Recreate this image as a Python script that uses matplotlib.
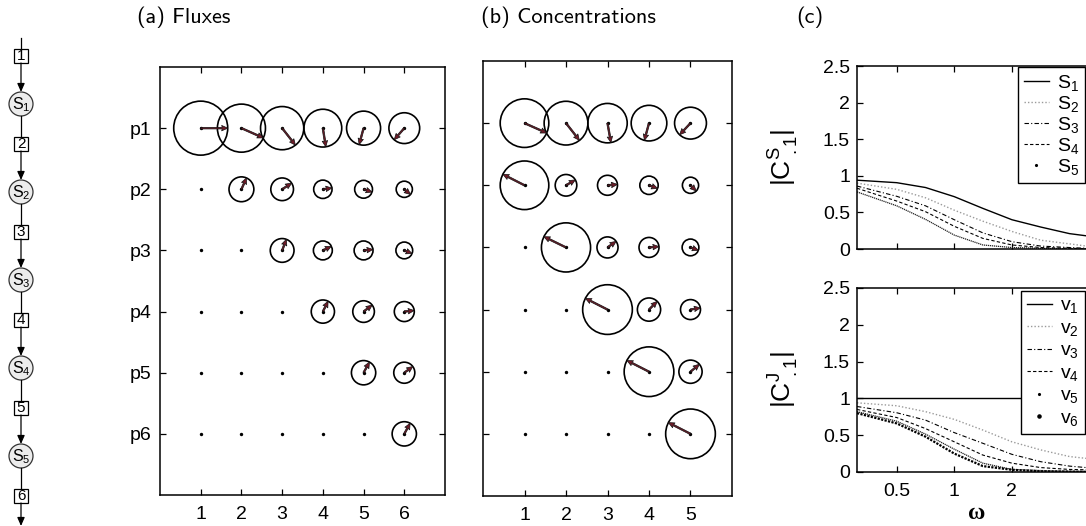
import numpy as np
import matplotlib
matplotlib.use("Agg")
import matplotlib.pyplot as plt
from matplotlib.lines import Line2D
from matplotlib.patches import Circle, Rectangle
from matplotlib.ticker import NullLocator, FixedLocator

plt.rcParams['font.family'] = ['Liberation Sans', 'DejaVu Sans']
plt.rcParams['mathtext.fontset'] = 'custom'
plt.rcParams['mathtext.rm'] = 'Liberation Sans'
plt.rcParams['mathtext.it'] = 'Liberation Sans:italic'

W, H = 1086, 526

# ---- data -------------------------------------------------------------
# response coefficients: magnitude (relative) and phase (degrees), rows p1..p6
flux_cols = [1, 2, 3, 4, 5, 6]
conc_cols = [1, 2, 3, 4, 5]
param_labels = ["p1", "p2", "p3", "p4", "p5", "p6"]

flux_mag = [
    [1.00, 0.89, 0.80, 0.70, 0.63, 0.57],
    [0.00, 0.46, 0.42, 0.34, 0.33, 0.30],
    [0.00, 0.00, 0.44, 0.35, 0.35, 0.31],
    [0.00, 0.00, 0.00, 0.43, 0.40, 0.37],
    [0.00, 0.00, 0.00, 0.00, 0.45, 0.39],
    [0.00, 0.00, 0.00, 0.00, 0.00, 0.45],
]
flux_phase = [
    [0, -24, -52, -81, -105, -131],
    [0, 66, 33, 8, -18, -40],
    [0, 0, 69, 26, 6, -22],
    [0, 0, 0, 63, 37, 6],
    [0, 0, 0, 0, 61, 36],
    [0, 0, 0, 0, 0, 61],
]
conc_mag = [
    [0.90, 0.81, 0.73, 0.66, 0.59],
    [0.90, 0.40, 0.37, 0.34, 0.30],
    [0.00, 0.91, 0.39, 0.37, 0.31],
    [0.00, 0.00, 0.92, 0.43, 0.37],
    [0.00, 0.00, 0.00, 0.92, 0.43],
    [0.00, 0.00, 0.00, 0.00, 0.92],
]
conc_phase = [
    [-24, -52, -80, -105, -133],
    [153, 30, 5, -20, -45],
    [0, 154, 35, 5, -20],
    [0, 0, 153, 45, 10],
    [0, 0, 0, 153, 40],
    [0, 0, 0, 0, 153],
]

omega = [0.31, 0.5, 0.707, 1.0, 1.41, 2.0, 2.83, 4.0, 4.9]
conc_curves = {
    "S1": [0.94, 0.906, 0.84, 0.715, 0.555, 0.40, 0.30, 0.21, 0.18],
    "S2": [0.90, 0.815, 0.70, 0.53, 0.38, 0.24, 0.12, 0.07, 0.04],
    "S3": [0.86, 0.72, 0.59, 0.40, 0.22, 0.10, 0.04, 0.02, 0.01],
    "S4": [0.83, 0.655, 0.51, 0.31, 0.145, 0.055, 0.02, 0.01, 0.005],
    "S5": [0.78, 0.59, 0.405, 0.19, 0.055, 0.02, 0.01, 0.0, 0.0],
}
flux_curves = {
    "v1": [1.0, 1.0, 1.0, 1.0, 1.0, 1.0, 1.0, 1.0, 1.0],
    "v2": [0.94, 0.90, 0.82, 0.715, 0.57, 0.41, 0.30, 0.21, 0.185],
    "v3": [0.89, 0.805, 0.705, 0.535, 0.39, 0.24, 0.14, 0.08, 0.06],
    "v4": [0.85, 0.74, 0.59, 0.41, 0.23, 0.12, 0.06, 0.035, 0.03],
    "v5": [0.82, 0.69, 0.515, 0.31, 0.12, 0.035, 0.02, 0.01, 0.01],
    "v6": [0.80, 0.66, 0.48, 0.25, 0.08, 0.03, 0.01, 0.005, 0.0],
}

RADIUS_PX = 27.0  # circle radius for magnitude 1


def px_axes(left, top, right, bottom):
    return fig.add_axes([left / W, (H - bottom) / H, (right - left) / W, (bottom - top) / H])


def style_box(ax):
    for sp in ax.spines.values():
        sp.set_linewidth(1.1)
    ax.tick_params(direction='in', top=True, right=True, length=4, width=0.9,
                   labelsize=14, pad=6)


def circle_panel(ax, cols, mag, phase, ylabels):
    m = np.array(mag)
    ph = np.deg2rad(np.array(phase))
    nr, nc = m.shape
    X, Y = np.meshgrid(cols, np.arange(1, nr + 1))
    r_px = m * RADIUS_PX
    show = m > 0
    # circles, size given in points^2 (100 dpi)
    d_pt = 2 * r_px * 0.72
    ax.scatter(X[show], Y[show], s=d_pt[show] ** 2, facecolors='none',
               edgecolors='black', linewidths=1.2, zorder=2)
    ax.scatter(X.ravel(), Y.ravel(), s=6, color='black', linewidths=0, zorder=3)
    U = r_px * np.cos(ph)
    V = r_px * np.sin(ph)
    ax.quiver(X[show], Y[show], U[show], V[show], angles='uv', scale_units='dots',
              scale=1, units='dots', width=1.6, headwidth=3.4, headlength=3.8,
              headaxislength=3.4, facecolor='#6e1b28', edgecolor='#111111',
              linewidth=0.5, zorder=4)
    ax.set_xlim(0, cols[-1] + 1)
    ax.set_ylim(nr + 1, 0)
    ax.set_xticks(cols)
    ax.set_xticklabels([str(c) for c in cols])
    ax.set_yticks(np.arange(1, nr + 1))
    if ylabels is None:
        ax.set_yticklabels([])
    else:
        ax.set_yticklabels(ylabels)
    style_box(ax)
    ax.tick_params(axis='x', pad=8)


fig = plt.figure(figsize=(W / 100, H / 100), dpi=100)

# ---- (a) and (b) ----------------------------------------------------
ax_a = px_axes(160, 67, 445, 495)
circle_panel(ax_a, flux_cols, flux_mag, flux_phase, param_labels)
ax_b = px_axes(483, 61, 732, 496)
circle_panel(ax_b, conc_cols, conc_mag, conc_phase, None)

# ---- (c) ------------------------------------------------------------
line_styles = [
    dict(color='black', lw=1.0, ls='-'),
    dict(color='#9a9a9a', lw=1.0, ls=(0, (1, 1.5))),
    dict(color='black', lw=0.8, ls=(0, (4, 2, 1, 2))),
    dict(color='black', lw=0.8, ls=(0, (3, 2))),
    dict(color='#222222', lw=0.9, ls=(0, (1, 0.6))),
    dict(color='black', lw=1.6, ls=(0, (1, 0.6))),
]
dot_sizes = {4: 2.5, 5: 4.5}


def response_panel(ax, curves, ylabel, xlabels, leg_left, leg_top, spacing):
    handles = []
    for i, (name, vals) in enumerate(curves.items()):
        st = line_styles[i]
        ax.plot(omega, vals, **st, zorder=2)
        label = name[0] + "$_{" + name[1:] + "}$"
        if i in dot_sizes:
            handles.append(Line2D([], [], ls='none', marker='.', ms=dot_sizes[i],
                                  color='black', label=label))
        else:
            handles.append(Line2D([], [], **st, label=label))
    ax.set_xscale('log')
    ax.set_xlim(0.31, 5.57)
    ax.set_ylim(0, 2.5)
    ax.xaxis.set_major_locator(FixedLocator([0.5, 1, 2]))
    ax.xaxis.set_minor_locator(NullLocator())
    if xlabels:
        ax.set_xticklabels(["0.5", "1", "2"])
    else:
        ax.set_xticklabels([])
    ax.set_yticks([0, 0.5, 1, 1.5, 2, 2.5])
    ax.set_yticklabels(["0", "0.5", "1", "1.5", "2", "2.5"])
    style_box(ax)
    ax.tick_params(axis='y', pad=5)
    ax.tick_params(axis='x', pad=8)
    ax.set_ylabel(ylabel, fontsize=19)
    ax.yaxis.set_label_coords(-0.235, 0.5)
    leg = ax.legend(handles=handles, loc='upper left', fontsize=14,
                    bbox_to_anchor=(leg_left / W, 1 - leg_top / H),
                    bbox_transform=fig.transFigure,
                    frameon=True, fancybox=False, framealpha=1, edgecolor='black',
                    borderaxespad=0, handlelength=1.3, handletextpad=0.4,
                    labelspacing=spacing, borderpad=0.3)
    leg.get_frame().set_linewidth(1.0)
    leg.set_zorder(5)


ax_c1 = px_axes(857, 66, 1097, 249)
response_panel(ax_c1, conc_curves, r'$|\mathrm{C}^{\mathrm{S}}_{\ .1}|$', False, 1018, 67, 0.05)
ax_c2 = px_axes(857, 288, 1097, 472)
response_panel(ax_c2, flux_curves, r'$|\mathrm{C}^{\mathrm{J}}_{\ .1}|$', True, 1021, 291, 0.2)
ax_c2.set_xlabel('ω', family='Liberation Serif', fontsize=17, fontweight='bold', labelpad=2)

# ---- panel titles ---------------------------------------------------
for x, txt in [(137, "(a) Fluxes"), (481, "(b) Concentrations"), (796, "(c)")]:
    fig.text(x / W, 1 - 17 / H, txt, family='cmss10', fontsize=16, va='center', ha='left')

# ---- pathway diagram ------------------------------------------------
ax_d = fig.add_axes([0, 0, 60 / W, 1])
ax_d.set_xlim(0, 60)
ax_d.set_ylim(H, 0)
ax_d.axis('off')
xc = 21
n_steps = 6
box_y = [56 + 88 * k for k in range(n_steps)]
met_y = [104 + 88 * k for k in range(n_steps - 1)]
bh, cr = 7, 12
prev_bottom = 38
arrow_kw = dict(arrowstyle='-|>,head_length=0.5,head_width=0.22', color='black',
                lw=0.9, shrinkA=0, shrinkB=0)
for k in range(n_steps):
    yb = box_y[k]
    ax_d.plot([xc, xc], [prev_bottom, yb - bh], color='black', lw=0.9)
    ax_d.add_patch(Rectangle((xc - bh, yb - bh), 2 * bh, 2 * bh, fc='white',
                             ec='black', lw=0.9))
    ax_d.text(xc, yb + 0.5, str(k + 1), fontsize=11, ha='center', va='center')
    end = met_y[k] - cr if k < n_steps - 1 else H
    ax_d.annotate('', xy=(xc, end), xytext=(xc, yb + bh), arrowprops=arrow_kw)
    if k < n_steps - 1:
        ym = met_y[k]
        ax_d.add_patch(Circle((xc, ym), cr, fc='#ececec', ec='#333333', lw=0.9))
        ax_d.text(xc, ym + 1, 'S$_{%d}$' % (k + 1), fontsize=11.5, ha='center', va='center')
        prev_bottom = ym + cr

fig.savefig('out.png', dpi=100)
